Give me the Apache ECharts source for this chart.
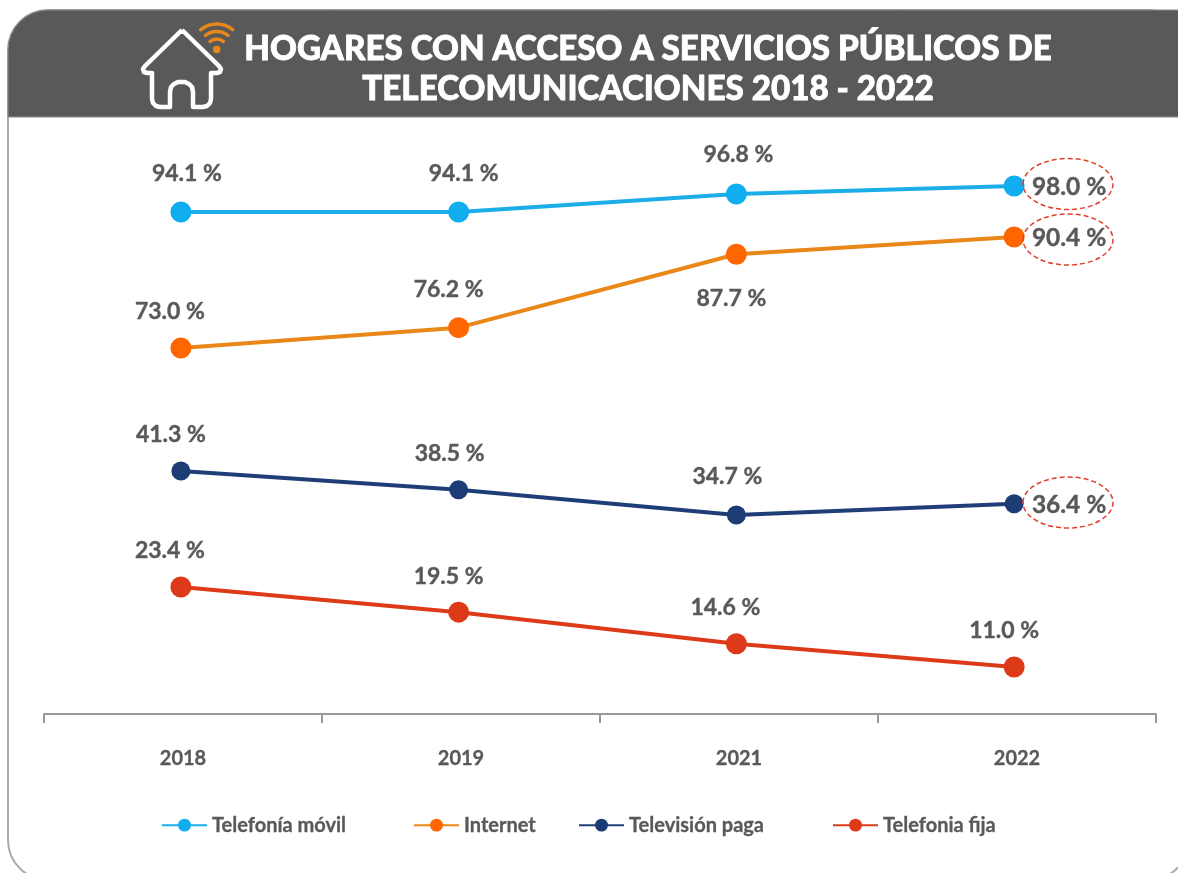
<!DOCTYPE html>
<html lang="es" style="height: 100%">
<head>
  <meta charset="utf-8">
</head>
<body style="height: 100%; margin: 0; background: #fff">
  <div id="container" style="height: 100%"></div>

  <script type="text/javascript" src="https://cdn.jsdelivr.net/npm/echarts@6/dist/echarts.min.js"></script>
  <script type="text/javascript">
    const years = ['2018', '2019', '2021', '2022'];
    const seriesNames = ['Telefonía móvil', 'Internet', 'Televisión paga', 'Telefonia fija'];
    const movil = [94.1, 94.1, 96.8, 98.0];
    const internet = [73.0, 76.2, 87.7, 90.4];
    const television = [41.3, 38.5, 34.7, 36.4];
    const fija = [23.4, 19.5, 14.6, 11.0];

    // la grafica original desplaza cada serie, cada una lleva su eje oculto
    const ranges = [[18.84, 104.9], [15.64, 105.61], [4.87, 90.93], [3.71, 92.7]];
    const lineColors = ['#1aade8', '#e98818', '#1f3e77', '#dd3a1a'];
    const dotColors = ['#10adef', '#ff6600', '#1b3c74', '#dd3a1a'];
    const dotSizes = [21, 21, 19, 21];
    const labelOffsets = [
      [[6, -38], [5, -38], [2, -39], [55, 1]],
      [[-11, -36], [-10, -38], [-5, 44], [55, 1]],
      [[-10, -36], [-9, -36], [-9, -38], [55, 1]],
      [[-11, -36], [-10, -36], [-11, -36], [-10, -36]]
    ];
    const legendLefts = [161, 413, 578, 832];

    const gray = '#595959';
    const font = 'Lato';
    const values = [movil, internet, television, fija];

    // contorno del icono de la casa
    const housePoints = [
      [182, 30], [219, 66], [221, 69], [220, 72], [217, 73], [211, 73], [211, 99], [210, 103], [207, 106], [203, 107],
      [193, 107], [193, 92], [192, 87], [189, 84], [185, 82], [178, 82], [174, 84], [171, 87], [170, 92], [170, 107],
      [160, 107], [156, 106], [153, 103], [152, 99], [152, 73], [147, 73], [144, 72], [143, 69], [145, 66], [182, 30]
    ];

    function wifiArc(r) {
      return {
        type: 'arc',
        z: 1,
        shape: { cx: 216.7, cy: 49.5, r: r, startAngle: -2.25, endAngle: -0.89 },
        style: { fill: 'none', stroke: '#e98818', lineWidth: 3.5, lineCap: 'round' }
      };
    }

    function oval(cy) {
      return {
        type: 'ellipse',
        z: 5,
        shape: { cx: 1068, cy: cy, rx: 45, ry: 25.5 },
        style: { fill: 'none', stroke: '#e0402a', lineWidth: 1.5, lineDash: [5, 3] }
      };
    }

    var myChart = echarts.init(document.getElementById('container'));

    var option = {
      animation: false,
      backgroundColor: '#fff',
      textStyle: { fontFamily: font },
      title: {
        text: 'HOGARES CON ACCESO A SERVICIOS PÚBLICOS DE\nTELECOMUNICACIONES 2018 - 2022',
        left: 643,
        top: 24,
        textAlign: 'center',
        textStyle: { color: '#fff', fontFamily: font, fontWeight: 900, fontSize: 33.2, lineHeight: 40, textBorderColor: '#fff', textBorderWidth: 0.8 }
      },
      legend: seriesNames.map((name, i) => ({
        data: [name],
        left: legendLefts[i],
        top: 815,
        padding: 0,
        itemWidth: 45,
        itemHeight: 16,
        itemGap: 0,
        textStyle: { color: gray, fontFamily: font, fontWeight: 'bold', fontSize: 20, textBorderColor: gray, textBorderWidth: 0.3 }
      })),
      grid: [
        { left: 44, width: 1112, top: 140, height: 574 },
        { left: 42, width: 1111, top: 140, height: 574 }
      ],
      xAxis: [
        {
          type: 'category',
          data: years,
          gridIndex: 0,
          axisLine: { lineStyle: { color: '#999', width: 2 } },
          axisTick: { show: true, length: 9, lineStyle: { color: '#999', width: 2 } },
          axisLabel: { color: gray, fontFamily: font, fontWeight: 'bold', fontSize: 20, margin: 35, textBorderColor: gray, textBorderWidth: 0.3 }
        },
        { type: 'category', data: years, gridIndex: 1, show: false }
      ],
      yAxis: [{ type: 'value', gridIndex: 0, show: false }].concat(ranges.map(r => ({
        type: 'value',
        gridIndex: 1,
        min: r[0],
        max: r[1],
        show: false
      }))),
      series: seriesNames.map((name, i) => ({
        name: name,
        type: 'line',
        xAxisIndex: 1,
        yAxisIndex: i + 1,
        symbol: 'circle',
        symbolSize: dotSizes[i],
        lineStyle: { color: lineColors[i], width: 4 },
        itemStyle: { color: dotColors[i] },
        data: values[i].map((v, j) => ({
          value: v,
          label: {
            show: true,
            position: 'inside',
            offset: labelOffsets[i][j],
            formatter: v.toFixed(1) + ' %',
            color: gray,
            fontFamily: font,
            fontWeight: 'bold',
            // los valores dentro de los ovalos van un poco mas grandes
            fontSize: j === 3 && i < 3 ? 24.5 : 23,
            textBorderColor: gray,
            textBorderWidth: 0.4
          }
        }))
      })),
      graphic: [
        // marco y cabecera
        {
          type: 'rect',
          z: -1,
          shape: { x: 8, y: 10, width: 1181, height: 870, r: 40 },
          style: { fill: '#fff', stroke: '#aaa', lineWidth: 2 }
        },
        {
          type: 'rect',
          z: 0,
          shape: { x: 8, y: 10, width: 1181, height: 107, r: [40, 0, 0, 0] },
          style: { fill: gray, stroke: '#8c8c8c', lineWidth: 1 }
        },
        {
          type: 'polyline',
          z: 1,
          shape: { points: housePoints },
          style: { fill: 'none', stroke: '#fff', lineWidth: 4.5, lineJoin: 'round' }
        },
        { type: 'circle', z: 1, shape: { cx: 216.7, cy: 49.5, r: 3.7 }, style: { fill: '#e98818' } },
        wifiArc(10.5),
        wifiArc(18),
        wifiArc(25.5),
        oval(184),
        oval(239.5),
        oval(502.5)
      ]
    };

    myChart.setOption(option);

    window.addEventListener('resize', myChart.resize);
  </script>
</body>
</html>
